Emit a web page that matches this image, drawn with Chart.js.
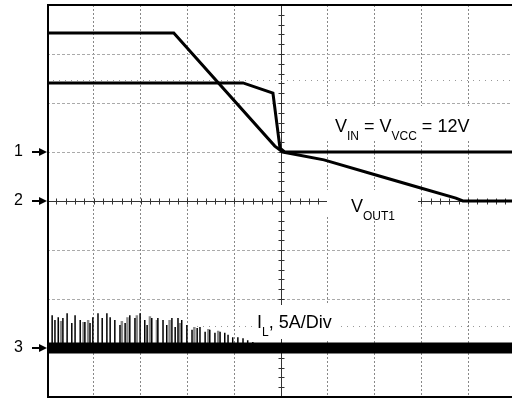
<!DOCTYPE html>
<html>
<head>
<meta charset="utf-8">
<script src="https://cdn.jsdelivr.net/npm/chart.js@4.4.1/dist/chart.umd.min.js"></script>
<style>
  html, body { margin: 0; padding: 0; background: #fff; overflow: hidden; }
</style>
</head>
<body>
<canvas id="scope" width="512" height="399"></canvas>
<script>
// x = time in divisions from left edge, y = divisions from centre line
const vinX  = [0, 4.19, 4.83, 4.98, 5.08, 9.94];
const vinY  = [2.41, 2.41, 2.2, 1.08, 1.0, 1.0];

const voutX = [0, 2.71, 4.87, 5.04, 5.92, 7.03, 7.97, 8.74, 8.89, 9.94];
const voutY = [3.43, 3.43, 1.12, 1.0, 0.84, 0.53, 0.27, 0.06, 0, 0];

const ilX = [0, 9.94];
const ilY = [-3.0, -3.0];

// switching spikes on the inductor current trace (top of each spike)
const spikeX   = [0.11, 0.17, 0.24, 0.34, 0.43, 0.53, 0.60, 0.71, 0.81, 0.92, 0.98, 1.09, 1.18, 1.28, 1.35, 1.45,
                  1.56, 1.67, 1.77, 1.88, 1.99, 2.09, 2.14, 2.24, 2.37, 2.48, 2.56, 2.67, 2.74, 2.80, 2.88, 2.99,
                  3.10, 3.21, 3.27, 3.38, 3.48, 3.59, 3.70, 3.80, 3.87, 3.97, 4.08, 4.19, 4.29, 4.40];
const spikeTop = [-2.33, -2.43, -2.37, -2.39, -2.29, -2.49, -2.33, -2.43, -2.47, -2.49, -2.37, -2.29, -2.39, -2.29, -2.37, -2.43,
                  -2.53, -2.49, -2.33, -2.39, -2.29, -2.43, -2.53, -2.39, -2.39, -2.43, -2.53, -2.39, -2.57, -2.39, -2.43, -2.53,
                  -2.63, -2.59, -2.57, -2.67, -2.63, -2.69, -2.67, -2.69, -2.73, -2.78, -2.78, -2.80, -2.84, -2.88];
const graySpikeX   = [0.30, 0.78, 0.88, 1.60, 1.72, 1.92, 2.20, 2.35, 2.62, 2.84, 3.15, 3.45, 3.66];
const graySpikeTop = [-2.45, -2.47, -2.43, -2.45, -2.37, -2.33, -2.35, -2.43, -2.43, -2.49, -2.57, -2.61, -2.65];

const channelNames  = ['1', '2', '3'];
const channelLevels = [1, 0, -3];

const X_MAX = 9.94;

function pts(xs, ys) { return xs.map((x, i) => ({ x: x, y: ys[i] })); }
function spikePts(xs, tops, base) {
    const out = [];
    xs.forEach((x, i) => { out.push({ x: x, y: base }, { x: x, y: tops[i] }, { x: x, y: base }); });
    return out;
}

function drawSubText(ctx, parts, x, y) {
    // parts: [text, isSub]
    parts.forEach(p => {
        ctx.font = p[1] ? '12px "Liberation Sans", Arial, sans-serif' : '18px "Liberation Sans", Arial, sans-serif';
        ctx.fillText(p[0], x, p[1] ? y + 8 : y);
        x += ctx.measureText(p[0]).width;
    });
}

const scopeDecor = {
    id: 'scopeDecor',
    beforeDatasetsDraw(chart) {
        const { ctx, chartArea: a, scales: { x, y } } = chart;
        ctx.save();
        // centre cross with minor ticks
        const cx = Math.round(x.getPixelForValue(5)) + 0.5;
        const cy = Math.round(y.getPixelForValue(0)) + 0.5;
        ctx.strokeStyle = '#333';
        ctx.lineWidth = 1;
        ctx.beginPath();
        ctx.moveTo(a.left, cy); ctx.lineTo(a.right, cy);
        ctx.moveTo(cx, a.top); ctx.lineTo(cx, a.bottom);
        for (let v = 0.2; v < X_MAX; v += 0.2) {
            const px = Math.round(x.getPixelForValue(v)) + 0.5;
            ctx.moveTo(px, cy - 3); ctx.lineTo(px, cy + 3);
        }
        for (let v = -3.8; v < 4; v += 0.2) {
            const py = Math.round(y.getPixelForValue(v)) + 0.5;
            ctx.moveTo(cx - 3, py); ctx.lineTo(cx + 3, py);
        }
        ctx.stroke();
        // faint cursor dots
        ctx.strokeStyle = '#999';
        ctx.setLineDash([1, 5]);
        ctx.beginPath();
        ctx.moveTo(a.left, 80.5); ctx.lineTo(a.right, 80.5);
        ctx.moveTo(197, 326.5); ctx.lineTo(a.right, 326.5);
        ctx.stroke();
        ctx.restore();
    },
    afterDatasetsDraw(chart) {
        const { ctx, chartArea: a, scales: { y } } = chart;
        ctx.save();
        // label backgrounds
        ctx.fillStyle = '#fff';
        ctx.fillRect(322, 106, 163, 35);
        ctx.fillRect(327, 190, 91, 26);
        ctx.fillRect(252, 305, 88, 34);
        ctx.fillStyle = '#000';
        ctx.textBaseline = 'alphabetic';
        drawSubText(ctx, [['V', 0], ['IN', 1], [' = V', 0], ['VCC', 1], [' = 12V', 0]], 335, 132);
        drawSubText(ctx, [['V', 0], ['OUT1', 1]], 351, 212);
        drawSubText(ctx, [['I', 0], ['L', 1], [', 5A/Div', 0]], 257, 328);

        // frame
        ctx.strokeStyle = '#000';
        ctx.lineWidth = 2;
        ctx.beginPath();
        ctx.moveTo(a.left + 1, a.top); ctx.lineTo(a.left + 1, a.bottom);
        ctx.moveTo(a.left, a.top); ctx.lineTo(a.right, a.top);
        ctx.moveTo(a.left, a.bottom); ctx.lineTo(a.right, a.bottom);
        ctx.stroke();

        // channel ground markers
        ctx.font = '16px "Liberation Sans", Arial, sans-serif';
        ctx.textBaseline = 'middle';
        channelLevels.forEach((lv, i) => {
            const py = Math.round(y.getPixelForValue(lv));
            ctx.fillText(channelNames[i], 14, py);
            ctx.beginPath();
            ctx.moveTo(32, py); ctx.lineTo(40, py);
            ctx.stroke();
            ctx.beginPath();
            ctx.moveTo(39, py - 4); ctx.lineTo(47, py); ctx.lineTo(39, py + 4);
            ctx.closePath();
            ctx.fill();
        });
        ctx.restore();
    }
};

const ctx = document.getElementById('scope').getContext('2d');
new Chart(ctx, {
    type: 'line',
    data: {
        datasets: [
            { data: pts(vinX, vinY), borderColor: '#000', borderWidth: 3, pointRadius: 0, order: 0 },
            { data: pts(voutX, voutY), borderColor: '#000', borderWidth: 3, pointRadius: 0, order: 0 },
            { data: pts(ilX, ilY), borderColor: '#000', borderWidth: 11, pointRadius: 0, order: 1 },
            { data: spikePts(spikeX, spikeTop, -3.0), borderColor: '#000', borderWidth: 1.5, pointRadius: 0, order: 3 },
            { data: spikePts(graySpikeX, graySpikeTop, -3.0), borderColor: '#8a8a8a', borderWidth: 2.5, pointRadius: 0, order: 4 }
        ]
    },
    options: {
        responsive: false,
        animation: false,
        devicePixelRatio: 1,
        layout: { padding: { left: 47, top: 5, right: 0, bottom: 2 } },
        plugins: { legend: { display: false }, tooltip: { enabled: false } },
        elements: { line: { tension: 0, borderCapStyle: 'butt' } },
        scales: {
            x: {
                type: 'linear', min: 0, max: X_MAX,
                ticks: { display: false, stepSize: 1 },
                grid: {
                    drawTicks: false,
                    color: c => (c.tick && (c.tick.value === 0 || c.tick.value === 5)) ? 'rgba(0,0,0,0)' : '#888'
                },
                border: { display: false, dash: [2, 2] }
            },
            y: {
                min: -4, max: 4,
                ticks: { display: false, stepSize: 1 },
                grid: {
                    drawTicks: false,
                    color: c => (c.tick && (c.tick.value === 0 || Math.abs(c.tick.value) === 4)) ? 'rgba(0,0,0,0)' : '#aaa'
                },
                border: { display: false, dash: [3, 2] }
            }
        }
    },
    plugins: [scopeDecor]
});
</script>
</body>
</html>
